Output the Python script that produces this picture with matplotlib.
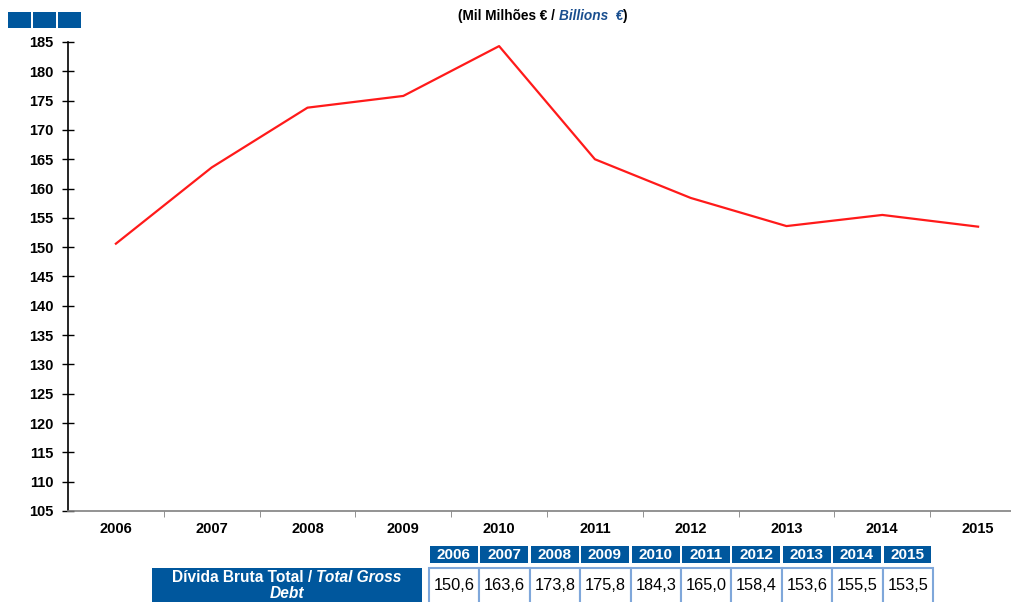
import matplotlib.pyplot as plt
from matplotlib.patches import Rectangle

years = ["2006", "2007", "2008", "2009", "2010", "2011", "2012", "2013", "2014", "2015"]
debt = [150.6, 163.6, 173.8, 175.8, 184.3, 165.0, 158.4, 153.6, 155.5, 153.5]
y_ticks = list(range(105, 186, 5))
row_label = "Dívida Bruta Total / "
row_label_it = "Total Gross"
row_label_2 = "Debt"

BLUE = "#00579d"
CELL_EDGE = "#7fa7da"
W, H = 1012, 602

plt.rcParams["font.family"] = ["Liberation Sans", "DejaVu Sans"]

fig = plt.figure(figsize=(W / 100, H / 100), dpi=100)


def fx(px):
    return px / W


def fy(py):
    return 1 - py / H


# main line chart
ax = fig.add_axes([fx(68), fy(511), fx(958), fy(42) - fy(511)])
x = list(range(len(years)))
ax.plot(x, debt, color="#ff1a1a", lw=1.6)
ax.set_xlim(-0.5, len(years) - 0.5)
ax.set_ylim(105, 185)
ax.set_yticks(y_ticks)
ax.set_yticklabels([str(v) for v in y_ticks], fontsize=10.5, fontweight="bold")
ax.tick_params(axis="y", direction="inout", length=9, width=1, pad=6)
ax.set_xticks(x)
ax.set_xticklabels(years, fontsize=10.5, fontweight="bold")
ax.tick_params(axis="x", which="major", length=0, pad=8)
ax.set_xticks([i + 0.5 for i in x[:-1]], minor=True)
ax.tick_params(axis="x", which="minor", length=4, color="#808080", direction="out")
for s in ["top", "right"]:
    ax.spines[s].set_visible(False)
ax.spines["left"].set_color("black")
ax.spines["left"].set_linewidth(1.2)
ax.spines["bottom"].set_color("#808080")
ax.spines["bottom"].set_linewidth(1.2)

# small blue squares, top left
for i in range(3):
    fig.add_artist(Rectangle((fx(8 + 25 * i), fy(28)), fx(23), fy(12) - fy(28),
                             transform=fig.transFigure, facecolor=BLUE, lw=0))

# unit title in two styles
r = fig.canvas.get_renderer()
t1 = fig.text(fx(458), fy(16), "(Mil Milhões € / ", fontsize=9.8,
              fontweight="bold", va="center", ha="left")
bb = t1.get_window_extent(renderer=r)
t2 = fig.text(bb.x1 / W, fy(16), "Billions  €", fontsize=9.8, fontweight="bold",
              style="italic", color="#1a4f8f", va="center", ha="left")
bb = t2.get_window_extent(renderer=r)
fig.text(bb.x1 / W, fy(16), ")", fontsize=9.8, fontweight="bold",
         va="center", ha="left")

# data table below the chart
cw = 50.4
x0 = 429
for i, (yr, v) in enumerate(zip(years, debt)):
    cx = x0 + i * cw
    fig.add_artist(Rectangle((fx(cx + 1), fy(563)), fx(cw - 2.5), fy(546) - fy(563),
                             transform=fig.transFigure, facecolor=BLUE, lw=0))
    fig.text(fx(cx + cw / 2 - 0.5), fy(555), yr, color="white", fontsize=11,
             fontweight="bold", ha="center", va="center")
    fig.add_artist(Rectangle((fx(cx), fy(606)), fx(cw), fy(568) - fy(606),
                             transform=fig.transFigure, facecolor="white",
                             edgecolor=CELL_EDGE, lw=1.5))
    fig.text(fx(cx + cw / 2), fy(586), f"{v:.1f}".replace(".", ","),
             fontsize=11.8, ha="center", va="center")

fig.add_artist(Rectangle((fx(152), fy(606)), fx(270), fy(568) - fy(606),
                         transform=fig.transFigure, facecolor=BLUE, lw=0))
r = fig.canvas.get_renderer()
la = fig.text(0, fy(578), row_label, color="white", fontsize=11.2,
              fontweight="bold", va="center", ha="left")
lb = fig.text(0, fy(578), row_label_it, color="white", fontsize=11.2,
              fontweight="bold", style="italic", va="center", ha="left")
wa = la.get_window_extent(renderer=r).width
wb = lb.get_window_extent(renderer=r).width
start = 287 - (wa + wb) / 2
la.set_x(fx(start))
lb.set_x(fx(start + wa))
fig.text(fx(287), fy(594), row_label_2, color="white", fontsize=11.2,
         fontweight="bold", style="italic", va="center", ha="center")

fig.savefig("out.png", dpi=100)
